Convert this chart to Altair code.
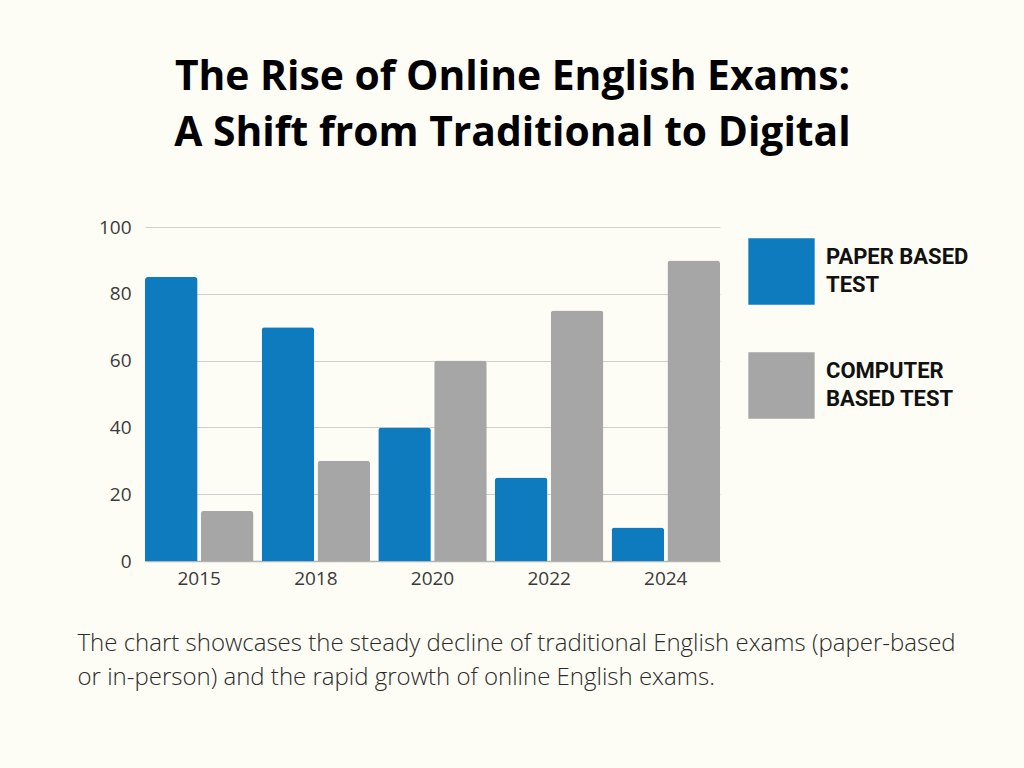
import altair as alt
import pandas as pd

years = ["2015", "2018", "2020", "2022", "2024"]
paper = [85, 70, 40, 25, 10]
computer = [15, 30, 60, 75, 90]
series = ["PAPER BASED TEST", "COMPUTER BASED TEST"]
colors = ["#0E7BBE", "#A6A6A6"]
y_ticks = [0, 20, 40, 60, 80, 100]

title_lines = ["The Rise of Online English Exams:", "A Shift from Traditional to Digital"]
caption_lines = [
    "The chart showcases the steady decline of traditional English exams (paper-based",
    "or in-person) and the rapid growth of online English exams.",
]

rows = []
for i, y in enumerate(years):
    rows.append({"year": y, "series": series[0], "value": paper[i]})
    rows.append({"year": y, "series": series[1], "value": computer[i]})
df = pd.DataFrame(rows)

bg = "#FDFDF5"

chart = alt.Chart(df).mark_bar(
    cornerRadiusTopLeft=3, cornerRadiusTopRight=3
).encode(
    x=alt.X(
        "year:N",
        sort=years,
        scale=alt.Scale(paddingInner=0.07, paddingOuter=0),
        axis=alt.Axis(
            title=caption_lines,
            titleFont="Open Sans",
            titleFontWeight=300,
            titleFontSize=24,
            titleColor="#2B2B2B",
            titleAlign="left",
            titleAnchor="start",
            titleBaseline="alphabetic",
            titleLineHeight=34,
            titleX=-68,
            titleY=89,
            labelFont="Open Sans",
            labelFontSize=19,
            labelFontWeight=400,
            labelColor="#3A3A3A",
            labelPadding=8,
            labelAngle=0,
            ticks=False,
            domainColor="#B5B5B5",
            domainWidth=1.5,
        ),
    ),
    xOffset=alt.XOffset("series:N", sort=series, scale=alt.Scale(paddingInner=0.06)),
    y=alt.Y(
        "value:Q",
        scale=alt.Scale(domain=[0, 100]),
        axis=alt.Axis(
            values=y_ticks,
            title=None,
            labelFont="Open Sans",
            labelFontSize=19,
            labelFontWeight=400,
            labelColor="#3A3A3A",
            labelPadding=14,
            ticks=False,
            domain=False,
            gridColor="#CFCFCF",
            gridWidth=1,
        ),
    ),
    color=alt.Color(
        "series:N",
        sort=series,
        scale=alt.Scale(domain=series, range=colors),
        legend=alt.Legend(
            title=None,
            orient="none",
            legendX=603,
            legendY=11,
            padding=0,
            symbolType="square",
            symbolSize=4400,
            symbolStrokeWidth=0,
            symbolOpacity=1,
            rowPadding=47,
            labelOffset=11,
            labelFont="Roboto",
            labelFontWeight="bold",
            labelFontSize=22,
            labelColor="#111111",
            labelLimit=300,
            labelBaseline="line-bottom",
            labelExpr="datum.label == 'PAPER BASED TEST' ? ['PAPER BASED', 'TEST'] : ['COMPUTER', 'BASED TEST']",
        ),
    ),
).properties(
    width=575,
    height=334,
    title=alt.Title(
        text=title_lines,
        font="Open Sans",
        fontWeight=700,
        fontSize=40.8,
        color="#000000",
        lineHeight=56,
        anchor="middle",
        frame="group",
        dx=80,
        offset=63,
    ),
    autosize=alt.AutoSizeParams(type="none"),
    padding={"left": 145, "top": 227, "right": 304, "bottom": 207},
    background=bg,
).configure(
    style={"guide-label": {"lineHeight": 28}}
).configure_view(stroke=None)

chart.save("out.html", embed_options={"renderer": "svg", "actions": False})
